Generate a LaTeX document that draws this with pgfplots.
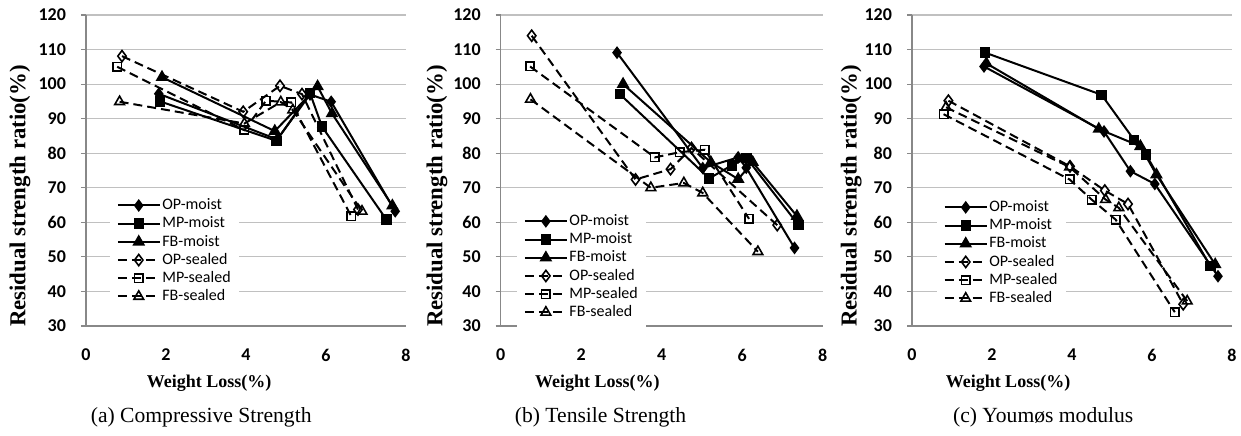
\documentclass[border=0pt]{standalone}
\usepackage{fontspec}
\setmainfont{Liberation Serif}
\newfontfamily\calibri{Carlito}
\usepackage{pgfplots}
\pgfplotsset{compat=1.18}
\definecolor{gridgray}{HTML}{C0C0C0}
\definecolor{axisgray}{HTML}{888888}

\pgfplotsset{
  panel/.style={
    scale only axis, width=160pt, height=155.5pt,
    xmin=0, xmax=8, ymin=30, ymax=120,
    xtick={0,2,4,6,8}, ytick={30,40,...,120},
    axis x line*=bottom, axis y line*=left,
    axis line style={draw=axisgray, line width=0.6pt, -},
    ymajorgrids, grid style={draw=gridgray, line width=0.6pt},
    x tick style={draw=none},
    y tick style={draw=axisgray, line width=0.6pt},
    tick align=outside, major tick length=2.5pt,
    tick label style={font=\calibri\bfseries\fontsize{9}{10}\selectfont},
    /pgf/number format/assume math mode=true,
    xticklabel style={yshift=-5.5pt},
    yticklabel style={xshift=-4pt},
    xlabel={Weight Loss(\%)},
    ylabel={Residual strength ratio(\%)},
    xlabel style={font=\bfseries\fontsize{9}{10}\selectfont, anchor=center},
    ylabel style={font=\bfseries\fontsize{11.4}{12}\selectfont, anchor=center},
    legend style={draw=none, fill=white, anchor=north west,
      font=\calibri\fontsize{8}{9}\selectfont, inner sep=3.5pt,
      nodes={inner sep=0.8pt, text height=5.6pt, text depth=1.4pt}, row sep=0.5pt},
    legend cell align=left,
    clip=false,
  },
  longleg/.style={legend image code/.code={\draw[mark repeat=2, mark phase=2, ##1]
      plot coordinates {(0pt,0pt) (10.5pt,0pt) (21pt,0pt)};}},
  moist/.style={black, line width=1pt, solid, longleg},
  sealed/.style={black, line width=1pt, dash pattern=on 4.5pt off 2.5pt, longleg},
  opm/.style={moist, mark=diamond*, mark size=2.4pt, mark options={solid, fill=black}},
  mpm/.style={moist, mark=square*, mark size=2.1pt, mark options={solid, fill=black}},
  fbm/.style={moist, mark=triangle*, mark size=2.7pt, mark options={solid, fill=black}},
  ops/.style={sealed, mark=diamond, mark size=2.8pt, mark options={solid, fill=white, line width=0.8pt}},
  mps/.style={sealed, mark=square, mark size=2.1pt, mark options={solid, fill=white, line width=0.8pt}},
  fbs/.style={sealed, mark=triangle, mark size=2.8pt, mark options={solid, fill=white, line width=0.8pt}},
}

\begin{document}
\begin{tikzpicture}
\path[use as bounding box] (0,0) rectangle (620.5pt,217.5pt);

% (a) compressive strength
\begin{axis}[panel, at={(43pt,54.5pt)}, anchor=south west,
  ylabel style={at={(axis description cs:-0.206,0.418)}},
  xlabel style={at={(axis description cs:0.385,-0.183)}},
  legend style={at={(axis description cs:0.073,0.439)}}]
\addplot[opm] coordinates {(1.82,97.2) (4.78,84.0) (5.60,97.0) (6.13,94.9) (7.73,63.2)};
\addplot[mpm] coordinates {(1.85,95.0) (4.76,83.6) (5.60,97.4) (5.90,87.7) (7.51,60.8)};
\addplot[fbm] coordinates {(1.90,102.0) (4.72,86.4) (5.79,99.3) (6.15,91.5) (7.66,64.8)};
\addplot[ops] coordinates {(0.90,108.1) (3.93,92.0) (4.85,99.5) (5.40,97.1) (6.80,63.7)};
\addplot[mps] coordinates {(0.78,105.0) (3.96,86.7) (4.50,95.2) (5.13,94.7) (6.63,61.8)};
\addplot[fbs] coordinates {(0.84,94.9) (3.96,88.6) (4.87,94.8) (5.17,92.5) (6.90,63.2)};
\legend{OP-moist, MP-moist, FB-moist, OP-sealed, MP-sealed, FB-sealed}
\node[font=\fontsize{10.8}{12}\selectfont] at (axis description cs:0.36,-0.293) {(a) Compressive Strength};
\end{axis}

% (b) tensile strength
\begin{axis}[panel, width=161pt, at={(250.35pt,54.5pt)}, anchor=south west,
  ylabel style={at={(axis description cs:-0.198,0.418)}},
  xlabel style={at={(axis description cs:0.30,-0.183)}},
  legend style={at={(axis description cs:0.049,0.388)}}]
\addplot[opm] coordinates {(2.89,109.1) (5.02,75.7) (5.90,78.8) (6.10,75.8) (7.30,52.6)};
\addplot[mpm] coordinates {(2.96,97.1) (5.18,72.7) (5.74,76.5) (6.11,78.6) (7.40,59.2)};
\addplot[fbm] coordinates {(3.04,100.0) (5.22,77.4) (5.90,72.5) (6.26,77.4) (7.36,61.8)};
\addplot[ops] coordinates {(0.77,114.0) (3.35,72.4) (4.22,75.4) (4.74,81.5) (6.87,59.2)};
\addplot[mps] coordinates {(0.73,105.1) (3.83,78.8) (4.45,80.3) (5.07,81.0) (6.17,61.0)};
\addplot[fbs] coordinates {(0.74,95.6) (3.73,70.0) (4.55,71.4) (5.02,68.5) (6.39,51.5)};
\legend{OP-moist, MP-moist, FB-moist, OP-sealed, MP-sealed, FB-sealed}
\node[font=\fontsize{10.8}{12}\selectfont] at (axis description cs:0.31,-0.293) {(b) Tensile Strength};
\end{axis}

% (c) modulus
\begin{axis}[panel, at={(456pt,54.5pt)}, anchor=south west,
  ylabel style={at={(axis description cs:-0.19,0.418)}},
  xlabel style={at={(axis description cs:0.30,-0.183)}},
  legend style={at={(axis description cs:0.076,0.433)}}]
\addplot[opm] coordinates {(1.80,105.1) (4.80,86.3) (5.46,74.8) (6.07,71.1) (7.65,44.4)};
\addplot[mpm] coordinates {(1.83,109.1) (4.74,96.9) (5.55,83.9) (5.85,79.6) (7.46,47.3)};
\addplot[fbm] coordinates {(1.86,106.0) (4.67,87.0) (5.71,82.0) (6.11,73.8) (7.58,47.8)};
\addplot[ops] coordinates {(0.91,95.2) (3.95,76.2) (4.82,69.2) (5.40,65.3) (6.78,36.3)};
\addplot[mps] coordinates {(0.79,91.3) (3.94,72.4) (4.49,66.6) (5.09,60.8) (6.57,34.0)};
\addplot[fbs] coordinates {(0.85,93.3) (3.94,76.0) (4.84,66.6) (5.17,64.2) (6.88,37.2)};
\legend{OP-moist, MP-moist, FB-moist, OP-sealed, MP-sealed, FB-sealed}
\node[font=\fontsize{10.8}{12}\selectfont] at (axis description cs:0.41,-0.293) {(c) Youmøs modulus};
\end{axis}
\end{tikzpicture}
\end{document}
